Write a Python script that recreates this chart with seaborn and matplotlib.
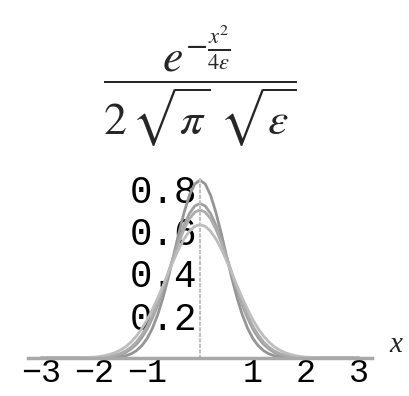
import numpy as np
import pandas as pd
import matplotlib
matplotlib.use("Agg")
import matplotlib.pyplot as plt
import seaborn as sns

# sample points (x from -3 to 3)
x_vals = [-3.0, -2.5,
          -2.0, -1.9, -1.8, -1.7, -1.6, -1.5, -1.4, -1.3, -1.2, -1.1,
          -1.0, -0.9, -0.8, -0.7, -0.6, -0.5, -0.4, -0.3, -0.2, -0.1,
          0.0,
          0.1, 0.2, 0.3, 0.4, 0.5, 0.6, 0.7, 0.8, 0.9, 1.0,
          1.1, 1.2, 1.3, 1.4, 1.5, 1.6, 1.7, 1.8, 1.9, 2.0,
          2.5, 3.0]

# curve with the tallest peak (eps ~ 0.11)
curve_a = [0.0, 0.0,
           0.0, 0.0, 0.001, 0.001, 0.003, 0.006, 0.011, 0.020, 0.035, 0.058,
           0.092, 0.140, 0.204, 0.284, 0.379, 0.483, 0.590, 0.688, 0.769, 0.822,
           0.840,
           0.822, 0.769, 0.688, 0.590, 0.483, 0.379, 0.284, 0.204, 0.140, 0.092,
           0.058, 0.035, 0.020, 0.011, 0.006, 0.003, 0.001, 0.001, 0.0, 0.0,
           0.0, 0.0]

# eps ~ 0.15
curve_b = [0.0, 0.0,
           0.001, 0.002, 0.003, 0.006, 0.010, 0.017, 0.027, 0.043, 0.065, 0.096,
           0.136, 0.188, 0.249, 0.321, 0.399, 0.480, 0.558, 0.628, 0.683, 0.718,
           0.730,
           0.718, 0.683, 0.628, 0.558, 0.480, 0.399, 0.321, 0.249, 0.188, 0.136,
           0.096, 0.065, 0.043, 0.027, 0.017, 0.010, 0.006, 0.003, 0.002, 0.001,
           0.0, 0.0]

# eps ~ 0.16
curve_c = [0.0, 0.0,
           0.001, 0.003, 0.005, 0.008, 0.014, 0.022, 0.034, 0.052, 0.076, 0.109,
           0.150, 0.201, 0.262, 0.329, 0.402, 0.476, 0.547, 0.609, 0.658, 0.689,
           0.700,
           0.689, 0.658, 0.609, 0.547, 0.476, 0.402, 0.329, 0.262, 0.201, 0.150,
           0.109, 0.076, 0.052, 0.034, 0.022, 0.014, 0.008, 0.005, 0.003, 0.001,
           0.0, 0.0]

# widest, lowest curve (eps ~ 0.2)
curve_d = [0.0, 0.0,
           0.004, 0.007, 0.011, 0.017, 0.026, 0.038, 0.054, 0.076, 0.104, 0.139,
           0.180, 0.229, 0.283, 0.341, 0.402, 0.461, 0.516, 0.563, 0.599, 0.622,
           0.630,
           0.622, 0.599, 0.563, 0.516, 0.461, 0.402, 0.341, 0.283, 0.229, 0.180,
           0.139, 0.104, 0.076, 0.054, 0.038, 0.026, 0.017, 0.011, 0.007, 0.004,
           0.0, 0.0]

eps_labels = ["0.11", "0.15", "0.16", "0.2"]
x_ticks = [-3, -2, -1, 1, 2, 3]
x_ticklabels = ["\u22123", "\u22122", "\u22121", "1", "2", "3"]
y_ticks = [0.2, 0.4, 0.6, 0.8]
y_ticklabels = ["0.2", "0.4", "0.6", "0.8"]

frames = []
for lab, ys in zip(eps_labels, [curve_a, curve_b, curve_c, curve_d]):
    frames.append(pd.DataFrame({"x": x_vals, "y": ys, "eps": lab}))
df = pd.concat(frames, ignore_index=True)

sns.set_style("white")
plt.rcParams["font.family"] = ["Liberation Mono", "DejaVu Sans"]
plt.rcParams["mathtext.fontset"] = "stix"

fig = plt.figure(figsize=(4.1, 3.96), dpi=100)
ax = fig.add_axes([28 / 410, 38 / 396, 344 / 410, 182 / 396])

sns.lineplot(data=df, x="x", y="y", hue="eps",
             palette=["#959595", "#a0a0a0", "#acacac", "#bdbdbd"],
             linewidth=2.0, legend=False, ax=ax)

ax.set_xlim(-3.25, 3.25)
ax.set_ylim(0, 0.86)

# axes through the origin
ax.spines["top"].set_visible(False)
ax.spines["right"].set_visible(False)
ax.spines["left"].set_position(("data", 0))
ax.spines["left"].set_color("#c0c0c0")
ax.spines["left"].set_linestyle(":")
ax.spines["left"].set_linewidth(1.5)
ax.spines["bottom"].set_color("#a8a8a8")
ax.spines["bottom"].set_linewidth(2.5)

ax.set_xticks(x_ticks)
ax.set_xticklabels(x_ticklabels)
ax.set_yticks(y_ticks)
ax.set_yticklabels(y_ticklabels)
ax.tick_params(axis="y", length=0, labelsize=27, colors="black", pad=2)
ax.tick_params(axis="x", length=0, labelsize=24, colors="black", pad=0)
ax.set_xlabel("")
ax.set_ylabel("")
ax.grid(False)

ax.text(3.7, 0.0, "x", fontsize=21, style="italic",
        family=["Liberation Serif"], ha="center", va="bottom",
        clip_on=False)

# formula as title
fig.text(200 / 410, 1 - 86 / 396,
         r"$\dfrac{e^{-\frac{x^2}{4\epsilon}}}{2\,\sqrt{\pi}\ \sqrt{\epsilon}}$",
         fontsize=33, ha="center", va="center")

fig.savefig("out.png", dpi=100)
